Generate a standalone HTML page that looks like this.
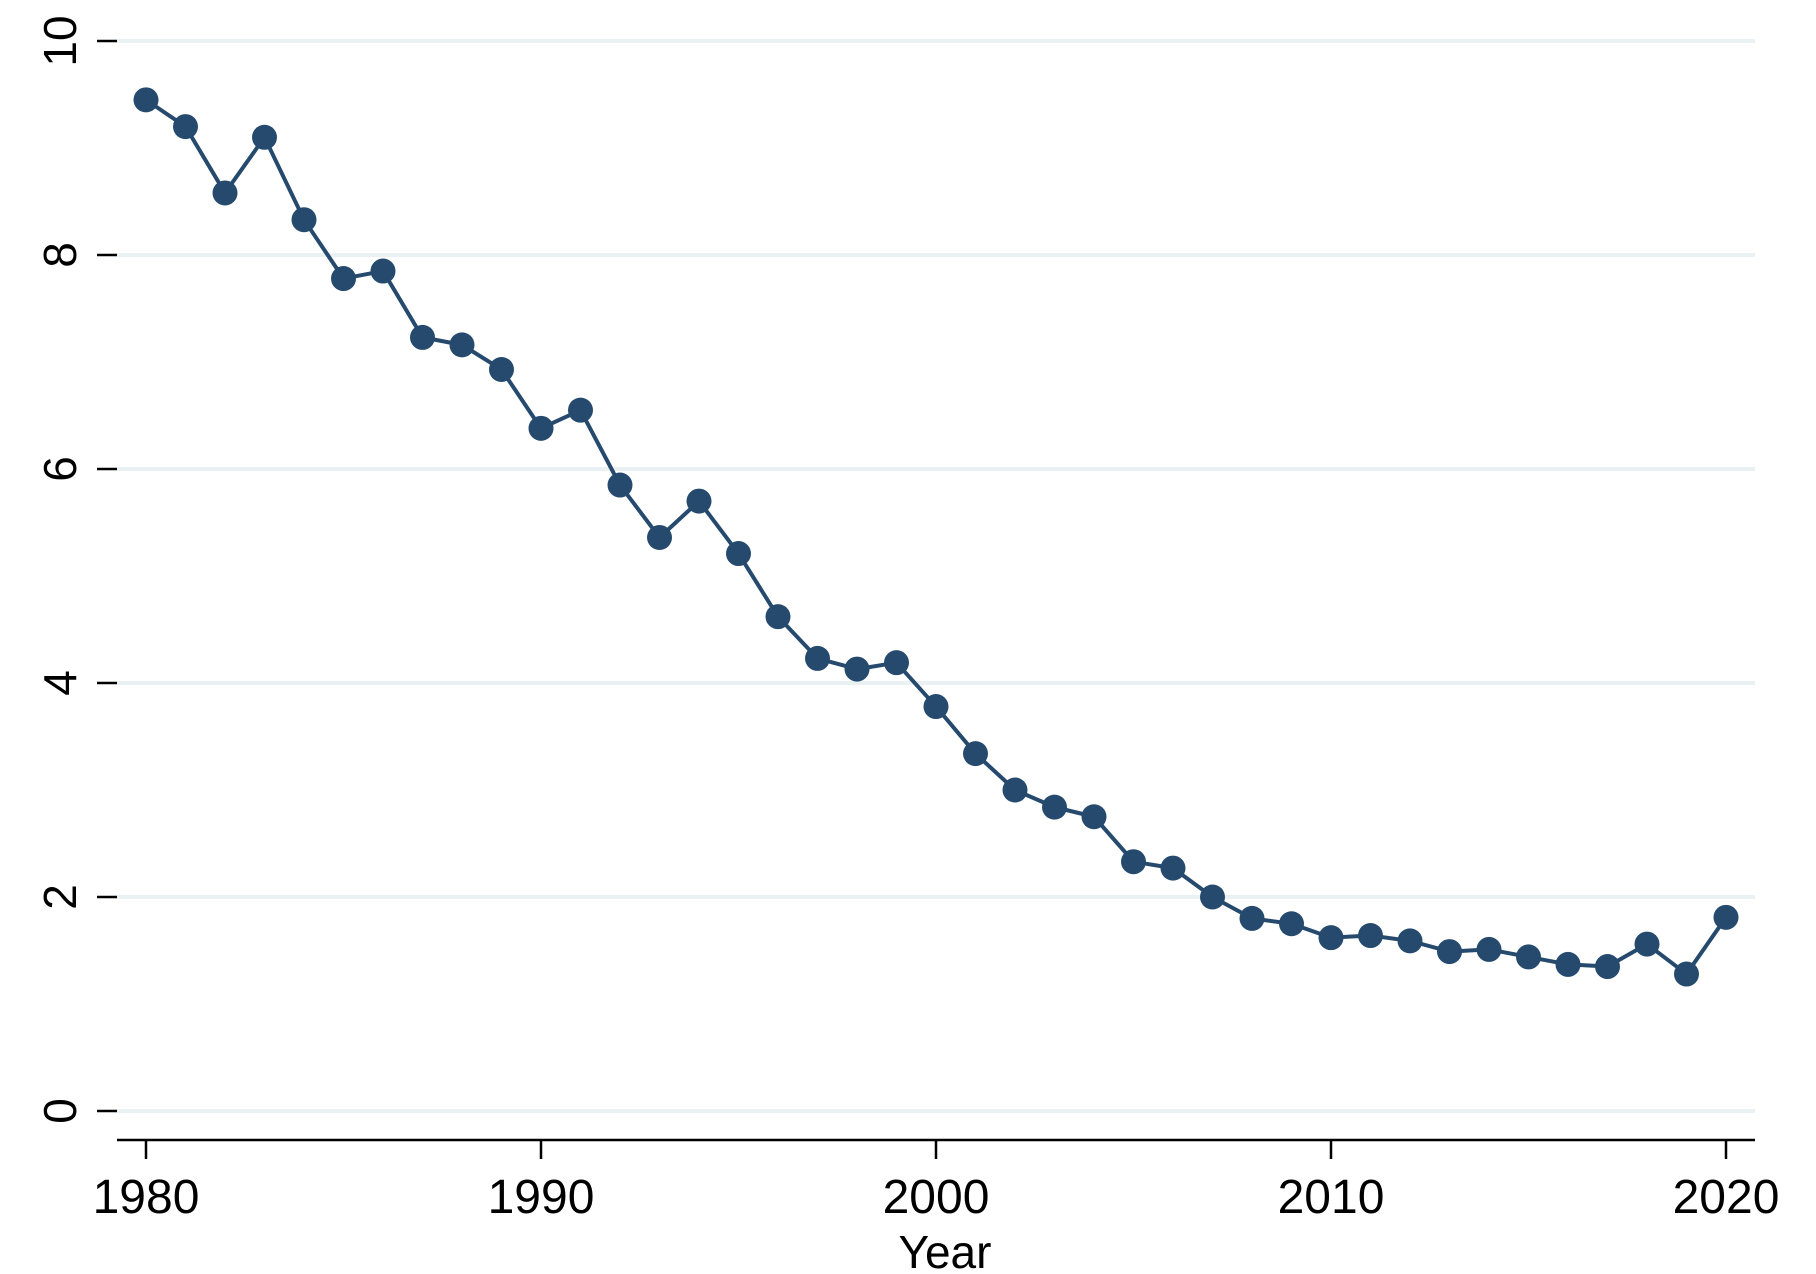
<!DOCTYPE html>
<html><head><meta charset="utf-8"><style>
html,body{margin:0;padding:0;background:#fff;}
svg{display:block;font-family:"Liberation Sans",sans-serif;}
</style></head><body>
<svg id="chart" width="1816" height="1274" viewBox="0 0 1816 1274" xmlns="http://www.w3.org/2000/svg">
<rect width="1816" height="1274" fill="#fff"/>
<g id="grid"></g><g id="axes"></g><g id="series"></g>
<text x="945" y="1268" font-size="46" text-anchor="middle" fill="#000">Year</text>
</svg>
<script>
const years = [];
for (let y = 1980; y <= 2020; y++) years.push(y);
const values = [9.45,9.2,8.58,9.1,8.33,7.78,7.85,7.23,7.16,6.93,6.38,6.55,5.85,5.36,5.7,5.21,4.62,4.23,4.13,4.19,3.78,3.34,3.0,2.84,2.75,2.33,2.27,2.0,1.8,1.75,1.62,1.64,1.59,1.49,1.51,1.44,1.37,1.35,1.56,1.28,1.81];
const yTicks = [0,2,4,6,8,10];
const xTicks = [1980,1990,2000,2010,2020];
const NS = "http://www.w3.org/2000/svg";
const xs = v => 146 + (v - 1980) * (1726 - 146) / 40;
const ys = v => 1111 - v * 107;
const L = 117, R = 1755;
function mk(tag, attrs, parent){const e=document.createElementNS(NS,tag);for(const k in attrs)e.setAttribute(k,attrs[k]);parent.appendChild(e);return e;}
const grid=document.getElementById('grid'), axes=document.getElementById('axes'), ser=document.getElementById('series');
yTicks.forEach(t=>{
  const g=mk('line',{x1:L,x2:R,y1:ys(t),y2:ys(t),stroke:'#eaf1f3','stroke-width':4},grid);
  
  
  const tk=mk('line',{x1:97,x2:117,y1:ys(t),y2:ys(t),stroke:'#000','stroke-width':2.5},axes);
  
  
  const tx=mk('text',{x:0,y:0,'font-size':46,'text-anchor':'middle',fill:'#000',transform:`translate(76,${ys(t)}) rotate(-90)`},axes);
  tx.textContent=t;
  
  
});
const ax=mk('line',{x1:L,x2:R,y1:1140,y2:1140,stroke:'#000','stroke-width':2.5},axes);


xTicks.forEach(t=>{
  const tk=mk('line',{x1:xs(t),x2:xs(t),y1:1140,y2:1159,stroke:'#000','stroke-width':2.5},axes);
  
  
  const tx=mk('text',{x:xs(t),y:1213,'font-size':48,'text-anchor':'middle',fill:'#000'},axes);
  tx.textContent=t;
  
  
});
const pts=years.map((y,i)=>xs(y)+','+ys(values[i])).join(' ');
const pl=mk('polyline',{points:pts,fill:'none',stroke:'#264a6e','stroke-width':4,'stroke-linejoin':'round'},ser);


years.forEach((y,i)=>{
  const c=mk('circle',{cx:xs(y),cy:ys(values[i]),r:12.5,fill:'#264a6e'},ser);
  
  
});
</script>
</body></html>
